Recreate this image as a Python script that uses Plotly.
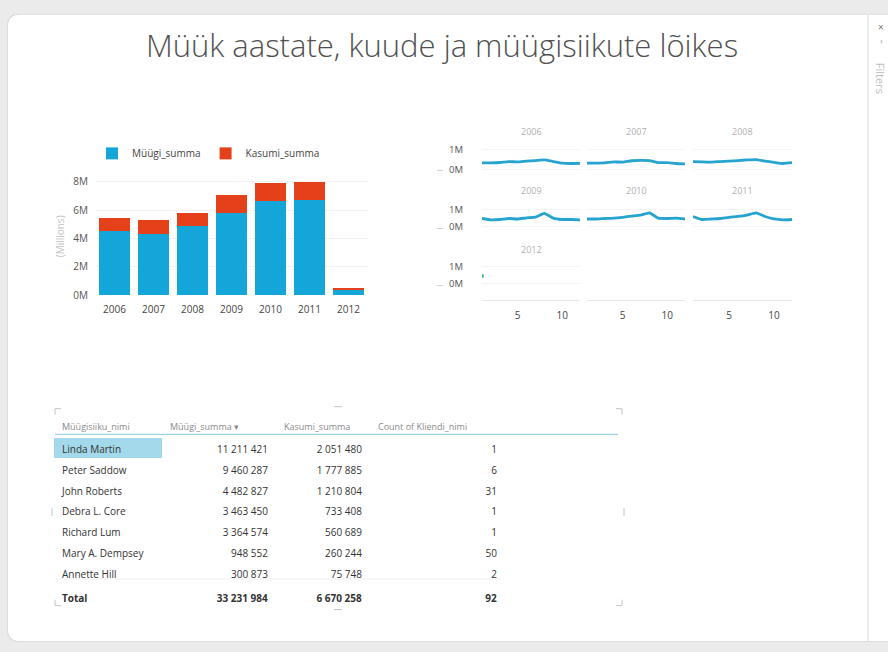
import plotly.graph_objects as go

W, H = 888, 652

# ---------------- data ----------------
years = ["2006", "2007", "2008", "2009", "2010", "2011", "2012"]
muugi_summa_m = [4.52, 4.30, 4.88, 5.82, 6.62, 6.68, 0.41]
kasumi_summa_m = [0.94, 0.98, 0.91, 1.21, 1.26, 1.30, 0.07]

months = list(range(1, 13))
monthly_sales_m = {
    "2006": [0.33, 0.33, 0.35, 0.40, 0.38, 0.42, 0.45, 0.48, 0.40, 0.32, 0.30, 0.31],
    "2007": [0.32, 0.32, 0.33, 0.38, 0.37, 0.44, 0.46, 0.45, 0.35, 0.34, 0.30, 0.28],
    "2008": [0.40, 0.38, 0.37, 0.40, 0.42, 0.45, 0.48, 0.50, 0.42, 0.36, 0.30, 0.34],
    "2009": [0.48, 0.40, 0.42, 0.48, 0.45, 0.52, 0.56, 0.78, 0.50, 0.42, 0.42, 0.40],
    "2010": [0.45, 0.45, 0.48, 0.50, 0.55, 0.62, 0.68, 0.82, 0.50, 0.48, 0.50, 0.45],
    "2011": [0.60, 0.42, 0.45, 0.48, 0.55, 0.60, 0.68, 0.82, 0.60, 0.45, 0.40, 0.42],
    "2012": [0.45],
}

table_header = ["Müügisiiku_nimi", "Müügi_summa", "Kasumi_summa", "Count of Kliendi_nimi"]
sales_people = ["Linda Martin", "Peter Saddow", "John Roberts", "Debra L. Core",
                "Richard Lum", "Mary A. Dempsey", "Annette Hill"]
people_sales = [11211421, 9460287, 4482827, 3463450, 3364574, 948552, 300873]
people_profit = [2051480, 1777885, 1210804, 733408, 560689, 260244, 75748]
people_clients = [1, 6, 31, 1, 1, 50, 2]
total_label = "Total"

# ---------------- helpers ----------------
def X(px):
    return px / W

def Y(py):
    return 1 - py / H

def fmt(n):
    return f"{n:,}".replace(",", " ")

FONT = "Open Sans, Noto Sans, sans-serif"
BLUE = "#14A6D9"
RED = "#E4411B"
LINE = "#27A3CF"

fig = go.Figure()

# ---------------- bar chart ----------------
fig.add_trace(go.Bar(x=years, y=muugi_summa_m, name="Müügi_summa",
                     marker=dict(color=BLUE, line=dict(width=0)),
                     xaxis="x", yaxis="y"))
fig.add_trace(go.Bar(x=years, y=kasumi_summa_m, name="Kasumi_summa",
                     marker=dict(color=RED, line=dict(width=0)),
                     xaxis="x", yaxis="y"))

layout_axes = dict(
    xaxis=dict(domain=[X(95), X(368)], anchor="y", showgrid=False, zeroline=False,
               showline=False, ticks="", ticklabelstandoff=7,
               tickfont=dict(size=10, color="#444"), fixedrange=True),
    yaxis=dict(domain=[Y(297), Y(177)], anchor="x", range=[0, 8.3],
               tickvals=[0, 2, 4, 6, 8], ticktext=["0M", "2M", "4M", "6M", "8M"],
               showgrid=True, gridcolor="#f2f2f2", zeroline=False, ticks="",
               ticklabelstandoff=6, tickfont=dict(size=10, color="#555"),
               title=dict(text="(Millions)", font=dict(size=10, color="#c4c4c4"),
                          standoff=6)),
)

# ---------------- small multiples ----------------
col_px = [(482, 580), (587, 685), (693, 792)]
# (top px, bottom px, zero px, px per million)
row_px = [(139, 176, 169, 20), (197, 233, 227, 17), (255, 302, 285, 17)]
title_py = [130, 190, 250]

annotations = []
n = 2
panel_cells = [(i // 3, i % 3) for i in range(9)]
for i, (r, c) in enumerate(panel_cells):
    top, bot, zero, ppm = row_px[r]
    xl, xr = col_px[c]
    xa, ya = f"xaxis{n}", f"yaxis{n}"
    xs, ys = f"x{n}", f"y{n}"
    yr = [-(bot - zero) / ppm, (zero - top) / ppm]
    has_data = i < len(years)
    if has_data:
        yr_key = years[i]
        vals = monthly_sales_m[yr_key]
        if len(vals) > 1:
            fig.add_trace(go.Scatter(x=months[:len(vals)], y=vals, mode="lines",
                                     line=dict(color=LINE, width=2.8, shape="spline",
                                               smoothing=0.4),
                                     xaxis=xs, yaxis=ys, showlegend=False,
                                     hoverinfo="skip"))
        else:
            fig.add_trace(go.Scatter(x=months[:1], y=vals, mode="markers",
                                     marker=dict(color="#3DB59A", size=4),
                                     xaxis=xs, yaxis=ys, showlegend=False,
                                     hoverinfo="skip"))
        annotations.append(dict(text=yr_key, xref=f"{xs} domain", x=0.5, xanchor="center",
                                yref="paper", y=Y(title_py[r]), yanchor="middle",
                                showarrow=False, font=dict(size=9, color="#b0b0b0")))
    else:
        fig.add_trace(go.Scatter(x=[None], y=[None], mode="lines", xaxis=xs, yaxis=ys,
                                 showlegend=False, hoverinfo="skip"))
    bottom_row = (r == 2)
    layout_axes[xa] = dict(domain=[X(xl), X(xr)], anchor=ys, range=[1, 12],
                           tickvals=[5, 10], showticklabels=bottom_row,
                           showgrid=False, zeroline=False,
                           showline=bottom_row, linecolor="#e8e8e8", ticks="",
                           ticklabelstandoff=6,
                           tickfont=dict(size=10, color="#444"), fixedrange=True)
    layout_axes[ya] = dict(domain=[Y(bot), Y(top)], anchor=xs, range=yr,
                           tickvals=[0, 1], ticktext=["0M", "1M"],
                           showticklabels=(c == 0 and has_data),
                           showgrid=has_data, gridcolor="#f4f4f4", zeroline=False,
                           ticks="", ticklabelstandoff=18,
                           tickfont=dict(size=9.5, color="#555"), fixedrange=True)
    n += 1

# ---------------- table ----------------
col_widths = [108, 114, 94, 135, 114]
col_names = sales_people + [f"<b>{total_label}</b>"]
col_sales = [fmt(v) for v in people_sales] + [f"<b>{fmt(sum(people_sales))}</b>"]
col_profit = [fmt(v) for v in people_profit] + [f"<b>{fmt(sum(people_profit))}</b>"]
col_clients = [str(v) for v in people_clients] + [f"<b>{sum(people_clients)}</b>"]
nrows = len(col_names)
fill_first = ["#A3D9EA"] + ["white"] * (nrows - 1)
white_col = ["white"] * nrows
fig.add_trace(go.Table(
    domain=dict(x=[X(54), X(619)], y=[Y(618), Y(419)]),
    columnwidth=col_widths,
    header=dict(values=[table_header[0], table_header[1] + " ▾",
                        table_header[2], table_header[3], ""],
                align="left", height=22, fill=dict(color="white"),
                line=dict(width=0), font=dict(family=FONT, size=9, color="#8a8a8a")),
    cells=dict(values=[col_names, col_sales, col_profit, col_clients, [""] * nrows],
               align=["left", "right", "right", "right", "left"],
               height=20.8, line=dict(width=0),
               fill=dict(color=[fill_first, white_col, white_col, white_col, white_col]),
               font=dict(family=FONT, size=10, color="#333")),
))

# ---------------- decorations ----------------
shapes = []
def rounded(x0, y0, x1, y1, r):
    return (f"M {X(x0 + r)} {Y(y0)} L {X(x1)} {Y(y0)} L {X(x1)} {Y(y1)} "
            f"L {X(x0 + r)} {Y(y1)} Q {X(x0)} {Y(y1)} {X(x0)} {Y(y1 - r)} "
            f"L {X(x0)} {Y(y0 + r)} Q {X(x0)} {Y(y0)} {X(x0 + r)} {Y(y0)} Z")

shapes.append(dict(type="path", xref="paper", yref="paper", layer="below",
                   path=rounded(7, 11, 890, 649, 12), fillcolor="#dcdcdc",
                   line=dict(width=0)))
shapes.append(dict(type="path", xref="paper", yref="paper", layer="below",
                   path=rounded(8, 12, 890, 648, 12), fillcolor="white",
                   line=dict(width=0)))
shapes.append(dict(type="line", xref="paper", yref="paper", x0=X(868), x1=X(868),
                   y0=Y(12), y1=Y(648), line=dict(color="#d6d6d6", width=1)))
shapes.append(dict(type="line", xref="paper", yref="paper", x0=X(55), x1=X(618),
                   y0=Y(438), y1=Y(438), line=dict(color="#9DD3E6", width=1.2)))
shapes.append(dict(type="line", xref="paper", yref="paper", x0=X(55), x1=X(500),
                   y0=Y(585), y1=Y(585), line=dict(color="#eeeeee", width=1)))
handle = dict(color="#c4c4c4", width=1)
for path in [
    [(55, 418), (55, 412), (61, 412)],
    [(616, 412), (622, 412), (622, 418)],
    [(55, 606), (55, 612), (61, 612)],
    [(616, 612), (622, 612), (622, 606)],
    [(334, 410), (342, 410)],
    [(334, 616), (342, 616)],
    [(52, 513), (52, 521)],
    [(624, 513), (624, 521)],
]:
    d = "M " + " L ".join(f"{X(px)} {Y(py)}" for px, py in path)
    shapes.append(dict(type="path", xref="paper", yref="paper", path=d, line=handle))
for py in [170, 229, 287]:
    shapes.append(dict(type="line", xref="paper", yref="paper", x0=X(437), x1=X(443),
                       y0=Y(py), y1=Y(py), line=dict(color="#cfcfcf", width=1)))

annotations += [
    dict(text="×", x=X(881), y=Y(24), xref="paper", yref="paper", showarrow=False,
         xanchor="center", yanchor="middle", font=dict(size=10, color="#777")),
    dict(text="›", x=X(881), y=Y(38), xref="paper", yref="paper", showarrow=False,
         xanchor="center", yanchor="middle", font=dict(size=9, color="#999")),
    dict(text="Filters", x=X(880), y=Y(76), xref="paper", yref="paper",
         showarrow=False, textangle=90, xanchor="center", yanchor="middle",
         font=dict(size=11, color="#bdbdbd")),
]

fig.update_layout(
    width=W, height=H, autosize=False,
    margin=dict(l=0, r=0, t=0, b=0, pad=0),
    paper_bgcolor="#ebebeb", plot_bgcolor="rgba(0,0,0,0)",
    font=dict(family=FONT, color="#444"),
    barmode="stack", bargap=0.2,
    title=dict(text="Müük aastate, kuude ja müügisiikute lõikes",
               x=X(442), xanchor="center", y=Y(46), yanchor="middle",
               font=dict(family="Open Sans, sans-serif", size=31, color="#505050",
                         weight=300)),
    legend=dict(orientation="h", x=X(92), y=Y(138), xanchor="left", yanchor="top",
                font=dict(size=10, color="#444"), bgcolor="rgba(0,0,0,0)",
                itemwidth=30, traceorder="normal"),
    shapes=shapes,
    annotations=annotations,
    **layout_axes,
)

fig.write_html("out.html", config={"displayModeBar": False},
               post_script="document.body.style.margin='0px';")
